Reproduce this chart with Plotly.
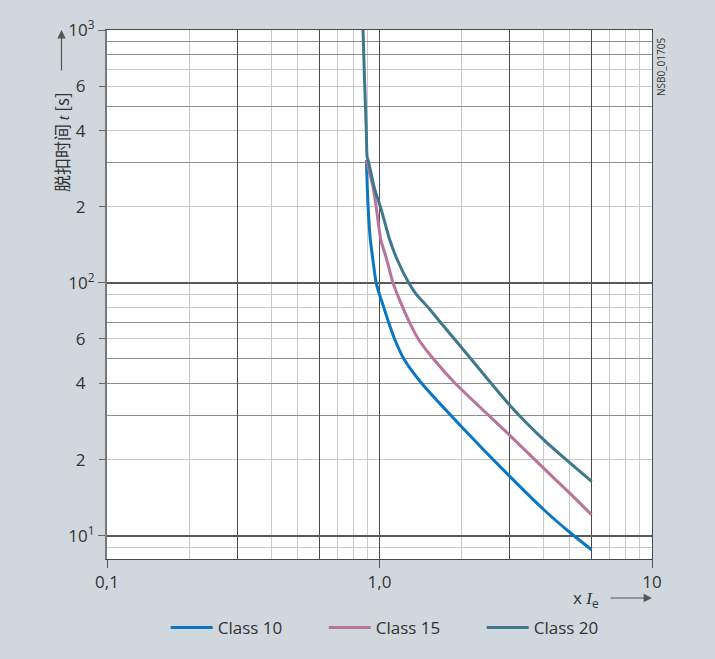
import plotly.graph_objects as go

# ---------------- data ----------------
class10_x = [0.895, 0.908, 0.925, 0.945, 0.972, 1.0, 1.037, 1.079, 1.136, 1.229, 1.43, 2.0, 3.0, 4.0, 5.0, 6.0]
class10_t = [306, 201, 149, 124, 100, 90, 80, 70, 60, 50, 40, 27, 17.2, 12.7, 10.3, 8.8]

class15_x = [0.895, 0.945, 0.972, 1.01, 1.062, 1.121, 1.163, 1.217, 1.287, 1.388, 1.578, 1.898, 3.0, 4.0, 5.0, 6.0]
class15_t = [306, 241, 200, 149, 124, 100, 90, 80, 70, 60, 50, 40, 25, 18.5, 14.7, 12.1]

class20_x = [0.870, 0.882, 0.895, 0.90, 0.912, 0.96, 1.009, 1.088, 1.16, 1.28, 1.365, 1.515, 1.67, 2.0, 3.0, 4.0, 5.0, 6.0]
class20_t = [1000, 617, 392, 317, 300, 235, 199, 149, 124, 100, 90, 79.5, 70, 55.5, 32.9, 24.0, 19.4, 16.4]

series_names = ["Class 10", "Class 15", "Class 20"]
series_colors = ["#0a76c4", "#b8749a", "#3f788c"]

x_tickvals = [0.1, 1, 10]
x_ticktext = ["0,1", "1,0", "10"]
x_minor_light = [0.2, 0.4, 0.5, 0.7, 0.8, 0.9, 2, 4, 5, 7, 8, 9]
x_dark = [0.3, 0.6, 3, 6]

y_decades = [10, 100, 1000]
y_decade_text = ["10<sup>1</sup>", "10<sup>2</sup>", "10<sup>3</sup>"]
y_sub_vals = [20, 40, 60, 200, 400, 600]
y_sub_text = ["2", "4", "6", "2", "4", "6"]
y_minor_light = [9, 20, 60, 80, 90, 200, 400, 600, 700]
y_minor_medium = [30, 40, 50, 70, 300, 500, 800, 900]

# ---------------- figure ----------------
fig = go.Figure()
for name, col, xs, ts in zip(series_names, series_colors,
                             [class10_x, class15_x, class20_x],
                             [class10_t, class15_t, class20_t]):
    fig.add_trace(go.Scatter(x=xs, y=ts, mode="lines", name=name,
                             line=dict(color=col, width=3, shape="spline", smoothing=0.6)))

# helper traces that create overlay subplots for extra grid lines / tick labels
fig.add_trace(go.Scatter(x=[None], y=[None], xaxis="x2", yaxis="y2",
                         showlegend=False, hoverinfo="skip"))
fig.add_trace(go.Scatter(x=[None], y=[None], xaxis="x", yaxis="y3",
                         showlegend=False, hoverinfo="skip"))

FONT = "Open Sans, Noto Sans, sans-serif"
LIGHT = "#c9c9c9"
MED = "#8e8e8e"
DARK = "#4a4a4a"
TXT = "#333333"

fig.update_layout(
    width=715, height=659,
    margin=dict(l=107, r=63, t=30, b=100),
    paper_bgcolor="#d0d8dd",
    plot_bgcolor="#ffffff",
    font=dict(family=FONT, size=17, color=TXT),
    showlegend=True,
    legend=dict(orientation="h", x=(165.7 - 107) / 545, xanchor="left",
                y=(559 - 628) / 529, yanchor="middle",
                itemwidth=42, entrywidth=101, entrywidthmode="pixels",
                font=dict(size=17, color=TXT),
                bgcolor="rgba(0,0,0,0)"),
    xaxis=dict(type="log", range=[-1, 1], automargin=False,
               tickvals=x_tickvals, ticktext=x_ticktext,
               ticks="outside", ticklen=8, tickcolor="#555", tickwidth=1,
               showgrid=True, gridcolor=DARK, gridwidth=1,
               showline=True, linecolor=DARK, linewidth=1, mirror=True,
               minor=dict(tickvals=x_minor_light, showgrid=True, gridcolor=LIGHT, gridwidth=1.3, ticks=""),
               zeroline=False, fixedrange=True),
    yaxis=dict(type="log", range=[0.908, 3], automargin=False,
               tickvals=y_decades, ticktext=y_decade_text,
               ticks="outside", ticklen=7, tickcolor="#666", tickwidth=1,
               showgrid=False,
               showline=True, linecolor="#777777", linewidth=2,
               minor=dict(tickvals=y_minor_light, showgrid=True, gridcolor=LIGHT, gridwidth=1.3, ticks=""),
               zeroline=False, fixedrange=True),
    yaxis3=dict(type="log", range=[0.908, 3], overlaying="y", anchor="x", side="left",
                automargin=False,
                tickvals=y_sub_vals, ticktext=y_sub_text, ticklabelstandoff=10,
                ticks="outside", ticklen=7, tickcolor="#666", tickwidth=1,
                showgrid=False, showline=False, zeroline=False, fixedrange=True),
    xaxis2=dict(type="log", range=[-1, 1], overlaying="x", anchor="y2", automargin=False,
                tickvals=x_dark, showticklabels=False, ticks="",
                showgrid=True, gridcolor=DARK, gridwidth=1, showline=False,
                zeroline=False, fixedrange=True),
    yaxis2=dict(type="log", range=[0.908, 3], overlaying="y", anchor="x2", side="right",
                automargin=False,
                tickvals=y_decades, showticklabels=False, ticks="",
                showgrid=True, gridcolor="#5a5a5a", gridwidth=1.5,
                showline=True, linecolor=DARK, linewidth=1,
                minor=dict(tickvals=y_minor_medium, showgrid=True, gridcolor=MED, gridwidth=1, ticks=""),
                zeroline=False, fixedrange=True),
)

# axis titles, arrows and drawing number
fig.add_annotation(xref="paper", yref="paper", x=(61 - 107) / 545, y=(559 - 142) / 529,
                   xanchor="center", yanchor="middle",
                   text="脱扣时间 <span style='font-family:Liberation Serif'><i>t</i></span> [s]",
                   textangle=-90, showarrow=False,
                   font=dict(family="Noto Sans CJK SC, " + FONT, size=17, color=TXT))
fig.add_annotation(xref="paper", yref="paper", x=(61.5 - 107) / 545, y=1.0,
                   ax=0, ay=42, text="", showarrow=True, arrowhead=2, arrowsize=1.4,
                   arrowwidth=1.2, arrowcolor="#555555")
fig.add_annotation(xref="paper", yref="paper", x=(586 - 107) / 545, y=(559 - 598) / 529,
                   xanchor="center", yanchor="middle",
                   text="x <span style='font-family:Liberation Serif'><i>I</i></span><sub>e</sub>",
                   showarrow=False, font=dict(size=17, color=TXT))
fig.add_annotation(xref="paper", yref="paper", x=1.0, y=(559 - 598) / 529,
                   ax=-43, ay=0, text="", showarrow=True, arrowhead=2, arrowsize=1.4,
                   arrowwidth=1.2, arrowcolor="#555555")
fig.add_annotation(xref="paper", yref="paper", x=(661 - 107) / 545, y=(559 - 67) / 529,
                   xanchor="center", yanchor="middle",
                   text="NSB0_01705", textangle=-90, showarrow=False,
                   font=dict(size=10, color=TXT))

fig.write_html("out.html", config={"displayModeBar": False},
               post_script="document.body.style.margin='0';")
